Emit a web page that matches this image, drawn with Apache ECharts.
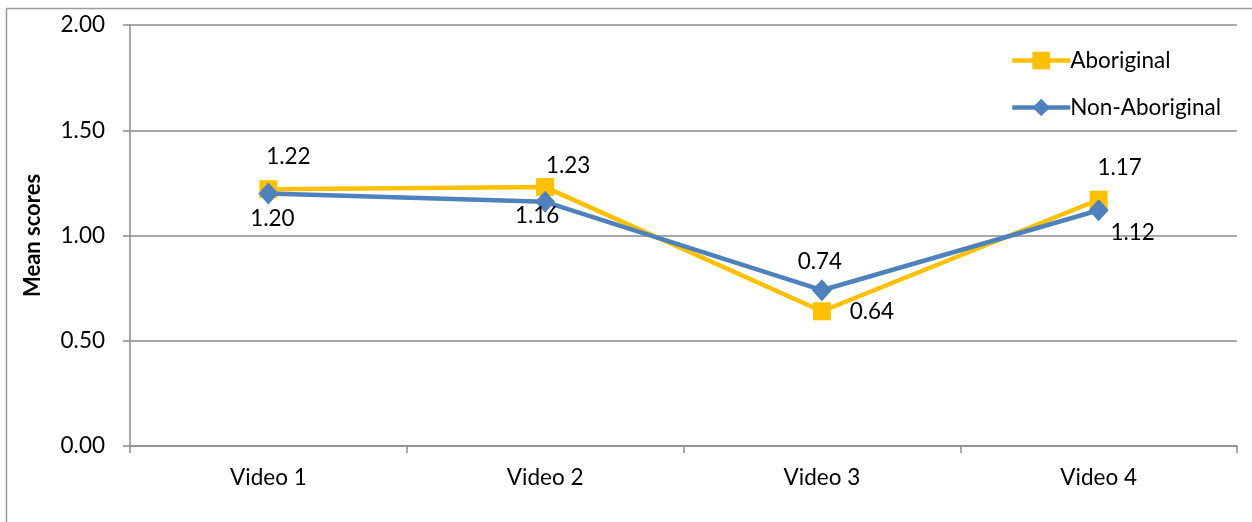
<!DOCTYPE html>
<html>
<head>
<meta charset="utf-8">
<script src="https://cdn.jsdelivr.net/npm/echarts@6/dist/echarts.min.js"></script>
<style>
  html, body { margin: 0; padding: 0; background: #fff; }
  #chart { width: 1252px; height: 522px; }
</style>
</head>
<body>
<div id="chart"></div>
<script>
// Mean scores per video, by group
const categories = ['Video 1', 'Video 2', 'Video 3', 'Video 4'];
const aboriginal = [1.22, 1.23, 0.64, 1.17];
const nonAboriginal = [1.20, 1.16, 0.74, 1.12];
const yTicks = { min: 0, max: 2, interval: 0.5 };

// per-point label nudges [dx, dy] so labels sit clear of the lines
const aboriginalLabelOffsets = [[20, -32], [23, -21], [50, 0], [21, -32]];
const nonAboriginalLabelOffsets = [[4, 25], [-8, 14], [-2, -28], [34, 23]];

const FONT = 'Lato, "Open Sans", sans-serif';
const FONT_SIZE = 22.5;
const AXIS_GRAY = '#8c8c8c';
const GOLD = '#FFC000';
const BLUE = '#4F81BD';

function withLabels(values, offsets) {
  return values.map((v, i) => ({
    value: v,
    label: { offset: offsets[i] }
  }));
}

const labelStyle = {
  show: true,
  position: 'inside',
  color: '#000',
  fontFamily: FONT,
  fontSize: FONT_SIZE,
  formatter: p => Number(p.value).toFixed(2)
};

const chart = echarts.init(document.getElementById('chart'), null, { renderer: 'canvas' });
chart.setOption({
  animation: false,
  backgroundColor: '#fff',
  graphic: [{
    type: 'rect',
    shape: { x: 6.5, y: 8.5, width: 1300, height: 600 },
    style: { fill: 'none', stroke: '#9a9a9a', lineWidth: 1.5 },
    silent: true,
    z: -1
  }],
  grid: { left: 130, right: 15, top: 25, bottom: 76, containLabel: false },
  legend: {
    orient: 'vertical',
    left: 1005,
    top: 44,
    itemWidth: 58,
    itemHeight: 22,
    itemGap: 24,
    textStyle: { fontFamily: FONT, fontSize: FONT_SIZE, color: '#000', padding: [0, 0, 0, -5] },
    data: [
      { name: 'Aboriginal', lineStyle: { color: GOLD, width: 4.5 } },
      { name: 'Non-Aboriginal', lineStyle: { color: BLUE, width: 4.5 } }
    ]
  },
  xAxis: {
    type: 'category',
    data: categories,
    boundaryGap: true,
    axisLine: { lineStyle: { color: AXIS_GRAY, width: 1.5 } },
    axisTick: { show: true, alignWithLabel: false, length: 7, lineStyle: { color: AXIS_GRAY, width: 1.5 } },
    axisLabel: { color: '#000', fontFamily: FONT, fontSize: FONT_SIZE, margin: 20 },
    splitLine: { show: false }
  },
  yAxis: {
    type: 'value',
    min: yTicks.min,
    max: yTicks.max,
    interval: yTicks.interval,
    name: 'Mean scores',
    nameLocation: 'middle',
    nameRotate: 90,
    nameGap: 86,
    nameTextStyle: { fontFamily: FONT, fontSize: 22, fontWeight: 'bold', color: '#000' },
    axisLine: { show: true, lineStyle: { color: AXIS_GRAY, width: 1.5 } },
    axisTick: { show: true, length: 7, lineStyle: { color: AXIS_GRAY, width: 1.5 } },
    axisLabel: { color: '#000', fontFamily: FONT, fontSize: FONT_SIZE, margin: 25, formatter: v => v.toFixed(2) },
    splitLine: { show: true, lineStyle: { color: AXIS_GRAY, width: 1.5 } }
  },
  series: [
    {
      name: 'Aboriginal',
      type: 'line',
      data: withLabels(aboriginal, aboriginalLabelOffsets),
      symbol: 'rect',
      symbolSize: 18,
      lineStyle: { color: GOLD, width: 4.5 },
      itemStyle: { color: GOLD },
      label: labelStyle,
      z: 2
    },
    {
      name: 'Non-Aboriginal',
      type: 'line',
      data: withLabels(nonAboriginal, nonAboriginalLabelOffsets),
      symbol: 'diamond',
      symbolSize: [20, 22],
      lineStyle: { color: BLUE, width: 4.5 },
      itemStyle: { color: BLUE },
      label: labelStyle,
      z: 3
    }
  ]
});
</script>
</body>
</html>
